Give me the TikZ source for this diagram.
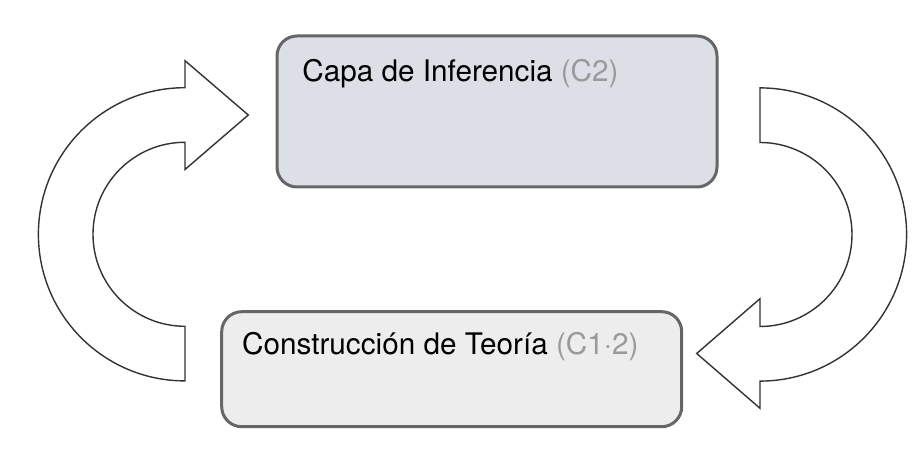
\documentclass[tikz,border=0pt]{standalone}
\usepackage{fontspec}
\setmainfont{TeX Gyre Heros}
\definecolor{boxline}{HTML}{666666}
\definecolor{topfill}{HTML}{DCE0E6}
\definecolor{botfill}{HTML}{EDEDED}
\definecolor{codegray}{HTML}{9A9A9A}
\definecolor{arrowline}{HTML}{333333}
\begin{document}
\begin{tikzpicture}[x=0.5pt,y=0.5pt,
  layerbox/.style={draw=boxline, line width=1.5pt, rounded corners=10pt, inner sep=0pt},
  boxtext/.style={anchor=base west, inner sep=0pt, font=\fontsize{14.85pt}{18pt}\selectfont},
  bigarrow/.style={draw=arrowline, fill=white, line width=0.7pt, line join=miter}]
\useasboundingbox (0,0) rectangle (922,454);
% boxes
\node[layerbox, fill=topfill, minimum width=220pt, minimum height=75.5pt] (inf) at (497,342.5) {};
\node[layerbox, fill=botfill, minimum width=230pt, minimum height=57.5pt] (teo) at (451.7,84.8) {};
\node[boxtext] (inftext) at (302,372) {Capa de Inferencia \textcolor{codegray}{(C2)}};
\node[boxtext] (teotext) at (241.7,99) {Construcción de Teoría \textcolor{codegray}{(C1·2)}};
% left curved arrow (up, pointing right)
\draw[bigarrow] (185,73.1) arc[start angle=-90, end angle=-270, radius=73.3pt]
  -- (185,393.3) -- (248.3,339) -- (185,284.5) -- (185,311.7)
  arc[start angle=90, end angle=270, radius=46pt] -- cycle;
% right curved arrow (down, pointing left)
\draw[bigarrow] (760,366.1) arc[start angle=90, end angle=-90, radius=73.3pt]
  -- (760,45.7) -- (696.7,100.5) -- (760,155.3) -- (760,127.5)
  arc[start angle=-90, end angle=90, radius=46pt] -- cycle;
\end{tikzpicture}
\end{document}
